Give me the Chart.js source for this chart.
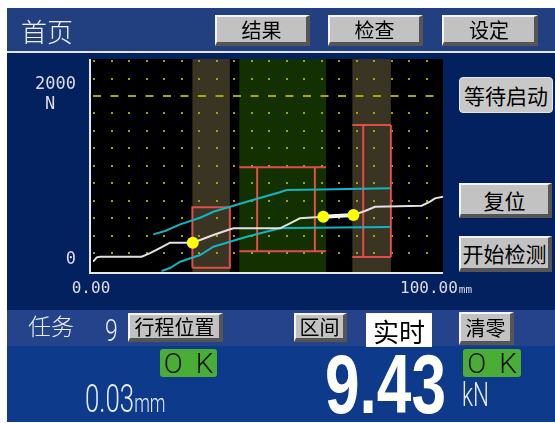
<!DOCTYPE html>
<html>
<head>
<meta charset="utf-8">
<script src="https://cdn.jsdelivr.net/npm/chart.js@4/dist/chart.umd.min.js"></script>
<style>
	body { margin: 0; width: 555px; height: 423px; overflow: hidden; position: relative; background: #fff; font-family: "Noto Sans CJK SC", sans-serif; }
	.box { position: absolute; }
	.t { position: absolute; white-space: nowrap; line-height: 1; }
	.btn { position: absolute; box-sizing: border-box; background: #c2c2c2; color: #000; border-top: 2px solid #f4f4f4; border-left: 2px solid #f4f4f4; border-right: 4px solid #555; border-bottom: 4px solid #555; display: flex; align-items: center; justify-content: center; font-size: 20px; z-index: 3; }
	.flat { position: absolute; box-sizing: border-box; background: #c8c8c8; border: 1px solid #e6e6e6; border-radius: 4px; display: flex; align-items: center; justify-content: center; font-size: 21px; z-index: 3; }
	.ok { position: absolute; background: #4aad36; border-radius: 3px; display: flex; align-items: center; justify-content: center; font-family: Roboto, sans-serif; font-weight: 300; font-size: 28px; letter-spacing: 13px; text-indent: 13px; color: #111; z-index: 3; }
	canvas { position: absolute; left: 0; top: 0; z-index: 2; }
</style>
</head>
<body>
<div class="box" style="left:7px;top:8px;width:548px;height:414px;background:#0d3a8b"></div>
<div class="box" style="left:7px;top:8px;width:548px;height:43px;background:#22407f"></div>
<div class="box" style="left:7px;top:51px;width:548px;height:2px;background:#dfe6f0"></div>
<div class="box" style="left:7px;top:53px;width:548px;height:257px;background:#03205f"></div>
<div class="box" style="left:7px;top:310px;width:548px;height:36px;background:#24438a"></div>

<div class="t" style="left:21px;top:18px;font-size:26px;color:#eef0f6;font-weight:300;z-index:3">首页</div>
<div class="btn" style="left:215px;top:15px;width:95px;height:31px">结果</div>
<div class="btn" style="left:328px;top:15px;width:95px;height:31px">检查</div>
<div class="btn" style="left:442px;top:15px;width:96px;height:31px">设定</div>

<div class="flat" style="left:459px;top:77px;width:94px;height:36px">等待启动</div>
<div class="btn" style="left:459px;top:183px;width:93px;height:35px;font-size:21px">复位</div>
<div class="btn" style="left:459px;top:236px;width:93px;height:36px;font-size:21px">开始检测</div>

<div class="t" style="left:28px;top:314px;font-size:23px;color:#e8ecf4;font-weight:300;z-index:3">任务</div>
<div class="t" style="left:105px;top:314px;font-family:Roboto,sans-serif;font-weight:300;font-size:32px;color:#e8ecf4;transform:scaleX(0.72);transform-origin:left top;z-index:3">9</div>
<div class="btn" style="left:128px;top:313px;width:95px;height:29px;font-size:20px">行程位置</div>
<div class="btn" style="left:294px;top:313px;width:53px;height:29px;font-size:20px">区间</div>
<div class="box" style="left:366px;top:313px;width:66px;height:34px;background:#fff;display:flex;align-items:center;justify-content:center;font-size:26px;color:#000;z-index:3">实时</div>
<div class="btn" style="left:459px;top:312px;width:55px;height:33px;font-size:20px">清零</div>

<div class="ok" style="left:160px;top:349px;width:57px;height:28px">OK</div>
<div class="ok" style="left:463px;top:349px;width:58px;height:28px">OK</div>

<div class="t" style="left:85px;top:380px;font-family:Roboto,sans-serif;font-weight:300;font-size:38px;color:#e8ecf4;transform:scaleX(0.68);transform-origin:left top;z-index:3">0.03<span style="font-size:26px">mm</span></div>
<div class="t" style="left:325px;top:342px;font-family:'Liberation Sans',sans-serif;font-weight:bold;font-size:84px;color:#fff;transform:scaleX(0.74);transform-origin:left top;z-index:3">9.43</div>
<div class="t" style="left:462px;top:378px;font-family:Roboto,sans-serif;font-weight:300;font-size:33px;color:#e8ecf4;transform:scaleX(0.68);transform-origin:left top;z-index:3">kN</div>

<canvas id="chart" width="555" height="423"></canvas>

<script>
// axis ranges (mm / N)
const X_MIN = 0;
const X_MAX = 100;
const Y_MIN = -146;
const Y_MAX = 2451;
const GRID_X_STEP = 5;
const GRID_Y_STEP = 212.8;

const X_TICK_VALUES = [0, 100];
const X_TICK_LABELS = ['0.00', '100.00'];
const X_UNIT = 'mm';
const Y_TICK_VALUES = [0, 2000];
const Y_TICK_LABELS = ['0', '2000'];
const Y_UNIT = 'N';

const LIMIT_FORCE = 2000;

// evaluation windows along the stroke
const BAND_START = [28.4, 41.8, 74.1];
const BAND_END = [39.1, 66.6, 85.1];
const BAND_KIND = ['hold', 'window', 'hold'];

// measured force curve
const CURVE_X = [0, 1.1, 2.0, 13.9, 16.3, 19.1, 22.0, 28.5, 30.6, 34.4, 37.7, 40.1, 53.4, 56.3, 59.1, 65.8, 74.4, 77.7, 80.6, 93.9, 96.3, 97.7, 100];
const CURVE_Y = [-20, 33, 40, 40, 85, 146, 211, 211, 244, 305, 354, 387, 387, 448, 509, 528, 549, 598, 650, 662, 713, 752, 772];

// envelope
const UPPER_X = [17.2, 20.6, 24.9, 30.6, 34.4, 43.9, 53.4, 55.3, 64.9, 84.9];
const UPPER_Y = [313, 354, 435, 516, 589, 711, 826, 854, 860, 874];
const LOWER_X = [19.6, 22.0, 24.9, 30.6, 34.4, 43.9, 53.4, 56.3, 84.9];
const LOWER_Y = [-134, -98, -21, 61, 162, 284, 387, 390, 402];

// check points
const MARK_X = [28.5, 65.8, 74.4];
const MARK_Y = [211, 528, 549];

// window boxes, one polyline per entry
const BOX_LINES = [
	[[28.4, -94], [28.4, 643], [39.1, 643], [39.1, -94], [28.4, -94]],
	[[41.8, 1130], [66.6, 1130]],
	[[41.8, 106], [66.6, 106]],
	[[46.9, 1130], [46.9, 106]],
	[[63.4, 1130], [63.4, 106]],
	[[74.1, 1646], [85.1, 1646]],
	[[74.1, 37], [85.1, 37]],
	[[77.2, 1646], [77.2, 37]],
	[[85.1, 1646], [85.1, 37]]
];

const bandColors = { hold: '#3a3422', window: '#133100' };

const zip = (xs, ys) => xs.map((x, i) => ({ x: x, y: ys[i] }));

const boxPoints = [];
BOX_LINES.forEach(line => {
	line.forEach(p => boxPoints.push({ x: p[0], y: p[1] }));
	boxPoints.push({ x: line[line.length - 1][0], y: null });
});

const hmiPlot = {
	id: 'hmiPlot',
	beforeDatasetsDraw(chart) {
		const { ctx, chartArea: a, scales: { x, y } } = chart;
		ctx.save();
		ctx.fillStyle = '#000';
		ctx.fillRect(a.left - 2, a.top, a.right - a.left + 2, a.bottom - a.top);
		BAND_START.forEach((s, i) => {
			const x0 = x.getPixelForValue(s);
			const x1 = x.getPixelForValue(BAND_END[i]);
			ctx.fillStyle = bandColors[BAND_KIND[i]];
			ctx.fillRect(x0, a.top, x1 - x0, a.bottom - a.top);
		});
		// dotted grid
		ctx.fillStyle = '#a4a400';
		const rows = [];
		for (let v = LIMIT_FORCE; v <= Y_MAX; v += GRID_Y_STEP) rows.push(v);
		for (let v = LIMIT_FORCE - GRID_Y_STEP; v >= Y_MIN; v -= GRID_Y_STEP) rows.push(v);
		for (let gx = X_MIN; gx < X_MAX; gx += GRID_X_STEP) {
			const px = Math.round(x.getPixelForValue(gx));
			rows.forEach(v => {
				const py = Math.round(y.getPixelForValue(v));
				if (py > a.top && py < a.bottom - 4) ctx.fillRect(px, py - 1, 2, 2);
			});
		}
		ctx.restore();
	},
	afterDatasetsDraw(chart) {
		const { ctx, chartArea: a, scales: { x, y } } = chart;
		ctx.save();
		ctx.fillStyle = '#e6e6e6';
		ctx.fillRect(a.left - 4, a.top, 2, a.bottom - a.top + 2);
		ctx.fillRect(a.left - 4, a.bottom, a.right - a.left + 4, 2);

		ctx.fillStyle = '#dcdce4';
		ctx.font = '17px "DejaVu Sans Mono"';
		ctx.textBaseline = 'middle';
		ctx.textAlign = 'right';
		Y_TICK_VALUES.forEach((v, i) => {
			const py = y.getPixelForValue(v);
			const lift = v === 0 ? 0 : 11;
			ctx.fillText(Y_TICK_LABELS[i], a.left - 17, py - lift);
		});
		ctx.textAlign = 'center';
		ctx.fillText(Y_UNIT, a.left - 43, y.getPixelForValue(LIMIT_FORCE) + 9);

		// x labels: first centred under the origin, last trails past the right edge
		ctx.font = '16px "DejaVu Sans Mono"';
		const ly = a.bottom + 17;
		ctx.fillText(X_TICK_LABELS[0], x.getPixelForValue(X_TICK_VALUES[0]) - 2, ly);
		ctx.textAlign = 'left';
		const lx = x.getPixelForValue(X_TICK_VALUES[1]) - 43;
		ctx.fillText(X_TICK_LABELS[1], lx, ly);
		const w = ctx.measureText(X_TICK_LABELS[1]).width;
		ctx.font = '11px "DejaVu Sans Mono"';
		ctx.fillText(X_UNIT, lx + w + 1, ly + 1);
		ctx.restore();
	}
};

new Chart(document.getElementById('chart'), {
	type: 'line',
	data: {
		datasets: [
			{ data: zip(MARK_X, MARK_Y), showLine: false, pointRadius: 6, pointBackgroundColor: '#ffff00', pointBorderWidth: 0, order: 0 },
			{ data: zip(MARK_X.slice(1), MARK_Y.slice(1)), borderColor: '#f4f4f4', borderWidth: 4, pointRadius: 0, order: 1 },
			{ data: zip(CURVE_X, CURVE_Y), borderColor: '#e2e2e2', borderWidth: 2, pointRadius: 0, order: 2 },
			{ data: zip(UPPER_X, UPPER_Y), borderColor: '#14b4c0', borderWidth: 2, pointRadius: 0, order: 3 },
			{ data: zip(LOWER_X, LOWER_Y), borderColor: '#14b4c0', borderWidth: 2, pointRadius: 0, order: 3 },
			{ data: boxPoints, borderColor: '#e44c4c', borderWidth: 2, pointRadius: 0, spanGaps: false, order: 4 },
			{ data: [{ x: X_MIN, y: LIMIT_FORCE }, { x: X_MAX, y: LIMIT_FORCE }], borderColor: '#a8a800', borderWidth: 2, borderDash: [8, 9.5], pointRadius: 0, order: 5 }
		]
	},
	options: {
		responsive: false,
		animation: false,
		devicePixelRatio: 1,
		layout: { padding: { left: 93, top: 59, right: 112, bottom: 151 } },
		plugins: { legend: { display: false }, tooltip: { enabled: false } },
		elements: { line: { tension: 0 } },
		scales: {
			x: { type: 'linear', min: X_MIN, max: X_MAX, display: false },
			y: { type: 'linear', min: Y_MIN, max: Y_MAX, display: false }
		}
	},
	plugins: [hmiPlot]
});
</script>
</body>
</html>
